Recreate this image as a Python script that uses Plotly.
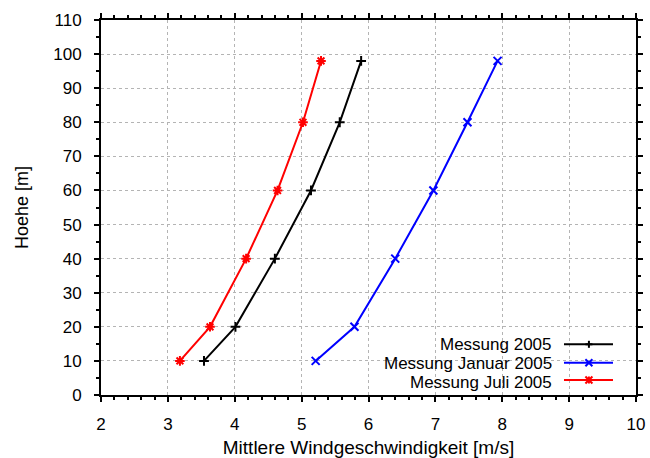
import plotly.graph_objects as go

heights = [10, 20, 40, 60, 80, 98]
wind_2005 = [3.54, 4.01, 4.60, 5.14, 5.57, 5.89]
wind_jan_2005 = [5.21, 5.79, 6.40, 6.97, 7.48, 7.93]
wind_jul_2005 = [3.18, 3.63, 4.17, 4.64, 5.02, 5.29]

names = ["Messung 2005", "Messung Januar 2005", "Messung Juli 2005"]
series = [wind_2005, wind_jan_2005, wind_jul_2005]
colors = ["#000000", "#0000ff", "#ff0000"]
symbols = ["cross-thin-open", "x-thin-open", "asterisk-open"]
sizes = [7, 8, 8]

x_ticks = [2, 3, 4, 5, 6, 7, 8, 9, 10]
y_ticks = list(range(0, 111, 10))

FONT = "Liberation Sans, Arial, Helvetica, sans-serif"

fig = go.Figure()
for name, xs, c, s, sz in zip(names, series, colors, symbols, sizes):
    fig.add_trace(go.Scatter(
        x=xs, y=heights, name=name, mode="lines+markers", showlegend=False,
        line=dict(color=c, width=2),
        marker=dict(symbol=s, size=sz, color=c, line=dict(color=c, width=2)),
    ))

axis_common = dict(
    showline=True, linecolor="black", linewidth=2, mirror="ticks",
    ticks="outside", ticklen=5, tickwidth=2, tickcolor="black",
    showgrid=True, gridcolor="#b4b4b4", griddash="dot", gridwidth=1,
    zeroline=False, automargin=False,
    tickfont=dict(family=FONT, size=17, color="black"),
)

fig.update_xaxes(
    range=[2, 10], tickvals=x_ticks, ticktext=[str(v) for v in x_ticks],
    title=dict(text="Mittlere Windgeschwindigkeit [m/s]", standoff=11,
               font=dict(family=FONT, size=19, color="black")),
    minor=dict(dtick=0.2, ticks="outside", ticklen=3, tickwidth=2, tickcolor="black", showgrid=False),
    ticklabelstandoff=8,
    **axis_common,
)
fig.update_yaxes(
    range=[0, 110], tickvals=y_ticks, ticktext=[str(v) for v in y_ticks],
    title=dict(text="Hoehe [m]", standoff=20,
               font=dict(family=FONT, size=18, color="black")),
    minor=dict(dtick=5, ticks="outside", ticklen=3, tickwidth=2, tickcolor="black", showgrid=False),
    ticklabelstandoff=9,
    **axis_common,
)

# --- custom legend (text right-aligned, sample on the right, like gnuplot) ---
legend_text_x = 0.845
legend_line_x = (0.8654, 0.957)
legend_marker_x = 0.912
legend_line_y = [0.1352, 0.086, 0.04]
legend_text_y = [0.1347, 0.084, 0.0333]

shapes = [dict(type="rect", xref="paper", yref="paper", x0=0.46, x1=0.974, y0=0.0, y1=0.16,
               fillcolor="white", line=dict(width=0), layer="between")]
annotations = []

arm = 3.5
marker_segments = {
    "cross-thin-open": [(-arm, 0, arm, 0), (0, -arm, 0, arm)],
    "x-thin-open": [(-arm, -arm, arm, arm), (-arm, arm, arm, -arm)],
    "asterisk-open": [(-arm, 0, arm, 0), (0, -arm, 0, arm),
                      (-arm, -arm, arm, arm), (-arm, arm, arm, -arm)],
}

for name, c, s, ly, ty in zip(names, colors, symbols, legend_line_y, legend_text_y):
    annotations.append(dict(text=name, xref="paper", yref="paper", x=legend_text_x, y=ty,
                            xanchor="right", yanchor="middle", showarrow=False,
                            borderpad=0,
                            font=dict(family=FONT, size=17, color="black")))
    shapes.append(dict(type="line", xref="paper", yref="paper",
                       x0=legend_line_x[0], x1=legend_line_x[1], y0=ly, y1=ly,
                       line=dict(color=c, width=2), layer="above"))
    for (ax0, ay0, ax1, ay1) in marker_segments[s]:
        shapes.append(dict(type="line", xref="paper", yref="paper",
                           xsizemode="pixel", ysizemode="pixel",
                           xanchor=legend_marker_x, yanchor=ly,
                           x0=ax0, y0=ay0, x1=ax1, y1=ay1,
                           line=dict(color=c, width=2), layer="above"))

fig.update_layout(
    width=650, height=458,
    margin=dict(l=101, r=14, t=20, b=63),
    plot_bgcolor="white", paper_bgcolor="white",
    font=dict(family=FONT, size=17, color="black"),
    showlegend=False,
    hovermode=False,
    shapes=shapes,
    annotations=annotations,
)

fig.write_html(
    "out.html",
    config={"displayModeBar": False, "staticPlot": True},
    post_script="document.body.style.margin='0';document.body.style.overflow='hidden';",
)
